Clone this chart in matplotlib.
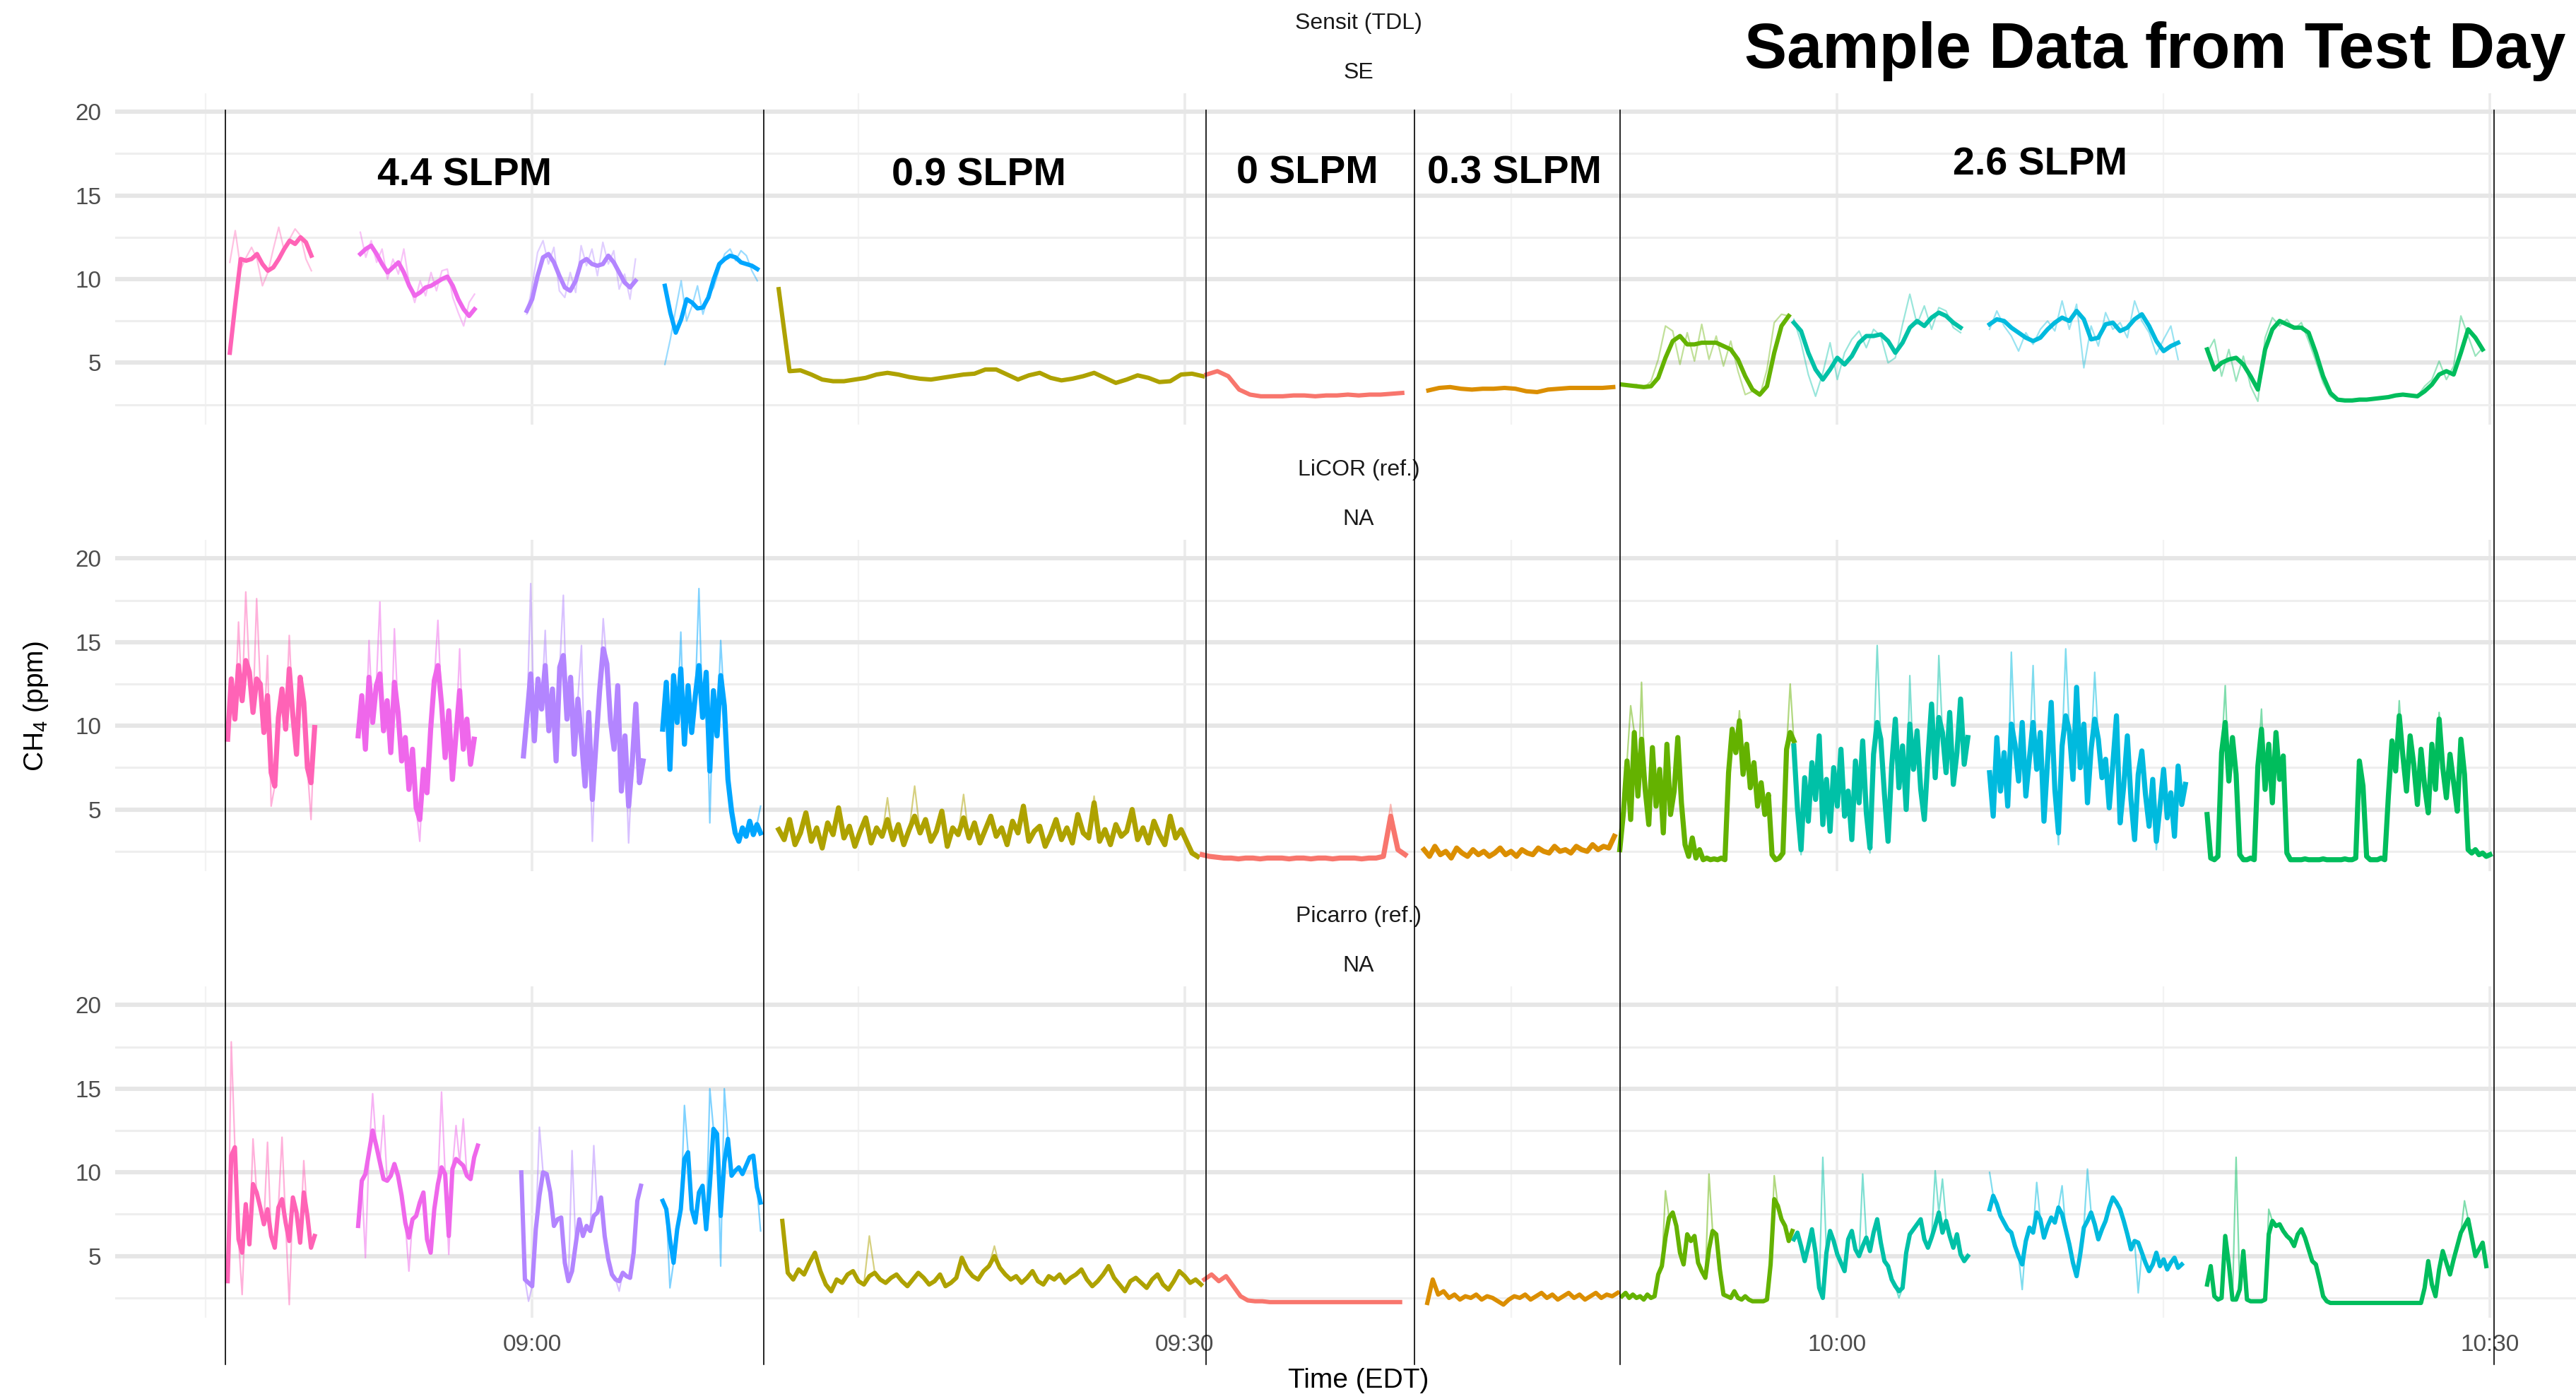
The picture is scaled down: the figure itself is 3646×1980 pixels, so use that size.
import numpy as np
import matplotlib
matplotlib.use("Agg")
import matplotlib.pyplot as plt
import matplotlib.dates as mdates
from matplotlib import font_manager
from matplotlib.lines import Line2D
from matplotlib.transforms import blended_transform_factory

#____________________________________________________________________________________________________
# data (CH4 in ppm)

DAY = "2023-06-14"

# segment order: 4.4 SLPM (4 runs), 0.9, 0, 0.3, 2.6 SLPM (4 runs)
seg_colors = ["#FF63B6", "#EF67EB", "#B385FF", "#00A6FF", "#AEA200", "#F8766D",
              "#DB8E00", "#64B200", "#00C1A7", "#00BADE", "#00BD5C"]

# flow-rate phase changes and labels
phase_edges = ["08:45:53", "09:10:39", "09:30:58", "09:40:34", "09:50:00", "10:30:11"]
phase_labels = ["4.4 SLPM", "0.9 SLPM", "0 SLPM", "0.3 SLPM", "2.6 SLPM"]
phase_label_time = ["08:56:54", "09:20:33", "09:35:39", "09:45:10", "10:09:20"]
phase_label_y = [16.2, 16.2, 16.3, 16.3, 16.8]

# ---- Sensit (TDL): smoothed line + raw readings
sensit_start = ["08:46:06", "08:52:06", "08:59:45", "09:06:06", "09:11:20", "09:31:00",
                "09:41:12", "09:50:06", "09:58:00", "10:07:00", "10:17:00"]
sensit_step = [15, 15, 15, 15, 30, 30, 30, 20, 20, 20, 20]

sensit_a = [5.6, 8.5, 11.2, 11.1, 11.2, 11.5, 10.9, 10.5, 10.7, 11.2, 11.8, 12.3, 12.1, 12.5, 12.2, 11.4]
sensit_a_raw = [11.0, 12.9, 10.6, 11.3, 11.9, 11.2, 9.6, 10.4, 11.8, 13.1, 11.7, 12.4, 13.0, 12.6, 11.2, 10.5]
sensit_b = [11.5, 11.8, 12.0, 11.5, 10.9, 10.4, 10.7, 11.0, 10.4, 9.6, 9.0, 9.2, 9.5, 9.6, 9.8, 10.0,
            10.15, 9.6, 8.8, 8.2, 7.8, 8.2]
sensit_b_raw = [12.8, 11.3, 12.3, 11.0, 11.8, 10.0, 11.2, 10.3, 11.8, 9.7, 8.6, 9.9, 9.0, 10.4, 9.3, 10.5,
                10.6, 8.9, 8.0, 7.2, 8.6, 9.1]
sensit_c = [8.1, 8.8, 10.2, 11.3, 11.5, 11.0, 10.2, 9.5, 9.3, 9.9, 11.0, 11.2, 10.9, 10.8, 10.9, 11.4,
            11.0, 10.4, 9.8, 9.5, 9.9]
sensit_c_raw = [7.9, 9.6, 11.6, 12.3, 10.9, 11.9, 9.3, 8.9, 10.4, 9.2, 12.0, 10.8, 11.8, 10.2, 12.2, 10.9,
                11.7, 9.4, 10.3, 8.8, 11.2]
sensit_d = [9.6, 8.0, 6.8, 7.6, 8.8, 8.6, 8.25, 8.3, 8.9, 10.0, 10.9, 11.2, 11.4, 11.3, 11.0, 10.9, 10.8, 10.6]
sensit_d_raw = [4.9, 6.4, 8.2, 9.9, 7.5, 8.4, 9.6, 7.9, 9.0, 9.5, 10.6, 11.5, 11.8, 11.1, 11.7, 11.4, 10.5, 9.9]
sensit_e = [9.4, 4.5, 4.55, 4.3, 4.0, 3.9, 3.9, 4.0, 4.1, 4.3, 4.4, 4.3, 4.15, 4.05, 4.0, 4.1, 4.2, 4.3,
            4.35, 4.6, 4.6, 4.3, 4.0, 4.25, 4.4, 4.1, 3.95, 4.05, 4.2, 4.4, 4.1, 3.8, 4.0, 4.25, 4.1,
            3.85, 3.9, 4.3, 4.35, 4.2]
sensit_z = [4.3, 4.5, 4.2, 3.4, 3.1, 3.0, 3.0, 3.0, 3.05, 3.05, 3.0, 3.05, 3.05, 3.1, 3.05, 3.1, 3.1, 3.15, 3.2]
sensit_t = [3.35, 3.5, 3.55, 3.45, 3.4, 3.45, 3.45, 3.5, 3.45, 3.3, 3.25, 3.4, 3.45, 3.5, 3.5, 3.5, 3.5, 3.55]
sensit_f = [3.7, 3.65, 3.6, 3.55, 3.6, 4.1, 5.3, 6.3, 6.6, 6.1, 6.1, 6.2, 6.2, 6.2, 6.0, 5.8, 5.2, 4.2,
            3.4, 3.1, 3.6, 5.6, 7.2, 7.8]
sensit_f_raw = [3.7, 3.6, 3.7, 3.5, 3.9, 5.2, 7.2, 6.9, 4.9, 6.8, 5.1, 7.3, 5.2, 6.6, 4.8, 6.3, 4.5, 3.1,
                3.3, 3.0, 4.6, 7.4, 7.9, 7.8]
sensit_g = [7.4, 6.9, 5.6, 4.6, 4.0, 4.6, 5.3, 4.9, 5.4, 6.2, 6.6, 6.6, 6.7, 6.3, 5.6, 6.2, 7.1, 7.5,
            7.2, 7.7, 8.0, 7.8, 7.4, 7.1]
sensit_g_raw = [7.6, 6.2, 4.3, 3.0, 4.4, 6.2, 4.0, 5.6, 6.4, 6.9, 5.9, 7.0, 6.6, 5.0, 5.3, 7.3, 9.1, 7.3,
                8.4, 7.0, 8.3, 8.1, 7.1, 6.8]
sensit_h = [7.3, 7.6, 7.5, 7.1, 6.8, 6.5, 6.3, 6.5, 7.0, 7.4, 7.7, 7.5, 8.1, 7.6, 6.4, 6.5, 7.3, 7.4,
            6.9, 7.1, 7.6, 7.9, 7.2, 6.3, 5.7, 6.0, 6.2]
sensit_h_raw = [7.0, 8.1, 7.2, 6.6, 5.7, 6.8, 6.1, 7.0, 7.5, 6.9, 8.7, 7.0, 8.5, 4.7, 7.2, 6.0, 8.0, 7.0,
                7.4, 6.5, 8.7, 7.5, 6.8, 5.5, 6.4, 7.2, 5.2]
sensit_i = [5.8, 4.6, 5.0, 5.2, 5.3, 4.9, 4.2, 3.4, 5.8, 7.0, 7.5, 7.3, 7.1, 7.1, 6.8, 5.6, 4.2, 3.2,
            2.8, 2.75, 2.75, 2.8, 2.8, 2.85, 2.9, 2.95, 3.05, 3.1, 3.05, 3.0, 3.3, 3.7, 4.3, 4.5, 4.3,
            5.6, 7.0, 6.5, 5.8]
sensit_i_raw = [5.6, 6.4, 4.2, 5.8, 3.9, 5.4, 3.6, 2.7, 6.5, 7.7, 7.2, 7.6, 7.0, 7.4, 6.3, 5.1, 3.8, 3.0,
                2.75, 2.7, 2.75, 2.8, 2.8, 2.85, 2.9, 2.95, 3.1, 3.1, 3.0, 3.0, 3.6, 4.0, 5.1, 4.0, 4.8,
                7.8, 6.6, 5.4, 5.9]

sensit_vals = [sensit_a, sensit_b, sensit_c, sensit_d, sensit_e, sensit_z, sensit_t,
               sensit_f, sensit_g, sensit_h, sensit_i]
sensit_raw = [sensit_a_raw, sensit_b_raw, sensit_c_raw, sensit_d_raw, None, None, None,
              sensit_f_raw, sensit_g_raw, sensit_h_raw, sensit_i_raw]

# ---- LiCOR (ref.): main trace + isolated spikes (index, value) in the raw trace
licor_start = ["08:46:00", "08:52:00", "08:59:36", "09:06:00", "09:11:20", "09:30:48",
               "09:41:00", "09:50:00", "09:58:00", "10:07:00", "10:17:00"]
licor_step = [10, 10, 10, 10, 15, 20, 15, 10, 10, 10, 10]

licor_a = [9.2, 12.8, 10.4, 13.6, 11.5, 13.9, 13.2, 10.8, 12.8, 12.5, 9.6, 11.8, 7.2, 6.4, 10.5, 12.2,
           9.8, 13.4, 10.6, 8.3, 12.9, 11.4, 7.5, 6.6, 9.9]
licor_a_spk = [(3, 16.2), (5, 18.0), (8, 17.6), (11, 14.2), (12, 5.2), (17, 15.4), (23, 4.4)]
licor_b = [9.4, 11.8, 8.6, 12.9, 10.2, 12.4, 13.1, 9.7, 11.5, 8.4, 12.6, 10.8, 7.9, 9.3, 6.2, 8.6, 5.1,
           4.4, 7.4, 6.0, 9.8, 12.7, 13.6, 11.3, 8.1, 10.9, 6.8, 9.5, 12.1, 8.6, 10.4, 7.7, 9.2]
licor_b_spk = [(3, 15.1), (6, 17.4), (10, 15.8), (17, 3.1), (22, 16.3), (28, 14.6)]
licor_c = [8.2, 10.6, 13.1, 9.1, 12.8, 11.0, 13.6, 9.7, 12.2, 7.9, 13.5, 14.2, 10.4, 12.9, 8.3, 11.6,
           9.2, 6.4, 10.8, 5.6, 8.9, 12.1, 14.6, 13.7, 10.3, 8.6, 12.4, 6.1, 9.4, 5.2, 7.8, 11.3, 6.6, 7.9]
licor_c_spk = [(2, 18.5), (6, 15.7), (11, 17.8), (16, 14.8), (19, 3.1), (22, 16.4), (29, 3.0)]
licor_d = [9.8, 12.6, 7.4, 13.0, 10.2, 13.4, 8.9, 12.4, 9.6, 11.8, 13.6, 10.5, 13.2, 7.3, 12.1, 9.4,
           13.0, 11.2, 6.8, 4.9, 3.6, 3.1, 3.9, 3.4, 4.3, 3.5, 4.1, 3.6]
licor_d_spk = [(5, 15.6), (10, 18.2), (13, 4.2), (16, 15.1), (27, 5.2)]
licor_e = [3.8, 3.2, 4.4, 2.9, 3.6, 4.8, 3.1, 3.9, 2.7, 4.2, 3.5, 5.1, 3.3, 4.0, 2.8, 3.7, 4.5, 3.0,
           3.9, 3.4, 4.4, 3.2, 4.1, 2.9, 3.8, 4.6, 3.6, 4.4, 3.1, 3.7, 4.9, 2.8, 3.9, 3.5, 4.5, 3.3,
           4.2, 3.0, 3.8, 4.6, 3.4, 3.9, 2.9, 4.3, 3.6, 5.2, 3.1, 3.7, 4.0, 2.8, 3.5, 4.4, 3.2, 3.9,
           3.0, 4.7, 3.6, 3.3, 5.4, 3.1, 3.8, 2.9, 4.1, 3.4, 3.7, 5.0, 3.2, 3.9, 3.0, 4.3, 3.5, 2.9,
           4.6, 3.3, 3.8, 3.1, 2.4, 2.2]
licor_e_spk = [(20, 5.7), (25, 6.4), (34, 5.9), (58, 5.8)]
licor_z = [2.3, 2.2, 2.15, 2.1, 2.1, 2.05, 2.1, 2.1, 2.05, 2.1, 2.1, 2.1, 2.05, 2.1, 2.1, 2.05, 2.1,
           2.1, 2.05, 2.1, 2.1, 2.1, 2.05, 2.1, 2.1, 2.2, 4.6, 2.6, 2.3]
licor_z_spk = [(26, 5.3)]
licor_t = [2.6, 2.2, 2.8, 2.3, 2.5, 2.1, 2.7, 2.4, 2.2, 2.6, 2.3, 2.5, 2.2, 2.4, 2.7, 2.3, 2.5, 2.2,
           2.6, 2.4, 2.3, 2.7, 2.5, 2.4, 2.8, 2.5, 2.6, 2.4, 2.8, 2.6, 2.5, 2.9, 2.6, 2.8, 2.7, 3.4]
licor_t_spk = []
licor_f = [2.6, 4.8, 7.9, 4.4, 9.6, 5.8, 9.2, 6.2, 4.1, 8.7, 5.2, 7.4, 3.6, 8.9, 4.7, 6.1, 9.3, 5.4,
           2.9, 2.2, 3.3, 2.1, 2.6, 2.0, 2.1, 2.0, 2.05, 2.0, 2.1, 2.0, 7.2, 9.8, 8.4, 10.3, 7.1, 8.9,
           6.3, 7.8, 5.2, 6.6, 4.7, 5.9, 2.3, 2.0, 2.1, 2.4, 8.6, 9.6, 9.1]
licor_f_spk = [(3, 11.2), (6, 12.6), (33, 10.9), (47, 12.5)]
licor_g = [8.8, 5.1, 2.6, 6.9, 4.3, 7.8, 5.6, 9.4, 4.1, 6.8, 3.7, 7.5, 5.2, 8.6, 4.6, 6.1, 3.2, 7.9,
           5.4, 9.1, 4.8, 2.7, 8.3, 10.2, 9.2, 5.9, 3.1, 7.6, 10.4, 6.3, 8.8, 5.0, 10.1, 7.4, 9.7, 6.2,
           4.4, 8.1, 11.3, 6.9, 10.5, 9.6, 7.2, 10.8, 6.5, 8.4, 11.6, 7.7, 9.3]
licor_g_spk = [(2, 2.3), (21, 2.4), (23, 14.8), (32, 13.0), (40, 14.2)]
licor_h = [7.2, 4.6, 9.3, 6.1, 8.4, 5.2, 10.1, 8.9, 6.7, 10.2, 5.8, 8.1, 10.2, 7.4, 9.6, 4.3, 7.9, 11.4,
           6.2, 3.6, 8.8, 10.6, 9.7, 6.8, 12.3, 7.5, 10.1, 5.4, 8.6, 10.4, 9.2, 6.9, 8.0, 5.1, 7.7, 10.6,
           4.2, 6.4, 9.4, 5.6, 3.2, 7.1, 8.5, 5.9, 4.0, 6.8, 3.1, 5.2, 7.4, 4.5, 6.0, 3.4, 7.6, 5.3, 6.5]
licor_h_spk = [(6, 14.4), (12, 13.6), (19, 2.9), (21, 14.6), (29, 13.2), (46, 2.6)]
licor_i = [4.7, 2.1, 2.0, 2.2, 8.4, 10.2, 6.7, 9.3, 7.1, 2.3, 2.0, 2.0, 2.1, 2.0, 7.6, 9.8, 6.2, 8.9,
           5.4, 9.6, 6.8, 8.2, 2.4, 2.0, 2.0, 2.0, 2.0, 2.05, 2.0, 2.0, 2.0, 2.0, 2.05, 2.0, 2.0, 2.0,
           2.0, 2.0, 2.05, 2.0, 2.0, 2.1, 7.9, 6.4, 2.2, 2.0, 2.0, 2.0, 2.1, 2.0, 5.8, 9.1, 7.3, 10.6,
           8.2, 6.1, 9.4, 7.7, 5.3, 8.6, 6.4, 4.8, 8.9, 6.2, 10.4, 7.5, 5.7, 8.3, 6.6, 4.9, 9.2, 7.1,
           2.6, 2.4, 2.6, 2.3, 2.4, 2.2, 2.3]
licor_i_spk = [(5, 12.4), (15, 11.0), (53, 11.5), (64, 10.8)]

licor_vals = [licor_a, licor_b, licor_c, licor_d, licor_e, licor_z, licor_t,
              licor_f, licor_g, licor_h, licor_i]
licor_spk = [licor_a_spk, licor_b_spk, licor_c_spk, licor_d_spk, licor_e_spk, licor_z_spk,
             licor_t_spk, licor_f_spk, licor_g_spk, licor_h_spk, licor_i_spk]

# ---- Picarro (ref.)
pic_start = ["08:46:00", "08:52:00", "08:59:30", "09:06:00", "09:11:30", "09:30:54",
             "09:41:09", "09:50:06", "09:58:00", "10:07:00", "10:17:00"]
pic_step = [10, 10, 10, 10, 15, 20, 15, 10, 10, 10, 10]

pic_a = [3.5, 11.0, 11.5, 6.0, 5.2, 8.1, 5.7, 9.3, 8.8, 7.9, 6.9, 7.8, 6.2, 5.5, 7.9, 8.4, 7.0, 5.9,
         8.5, 7.6, 5.8, 8.8, 7.4, 5.5, 6.2]
pic_a_spk = [(1, 17.8), (4, 2.7), (7, 12.0), (11, 11.8), (15, 12.1), (17, 2.1), (21, 10.7)]
pic_b = [6.8, 9.5, 9.9, 11.2, 12.5, 11.6, 10.6, 9.6, 9.5, 9.8, 10.5, 9.8, 8.6, 7.0, 6.1, 7.2, 7.4, 8.2,
         8.8, 6.0, 5.2, 7.8, 9.3, 10.3, 9.9, 6.2, 10.2, 10.8, 10.6, 10.4, 9.8, 9.6, 10.9, 11.6]
pic_b_spk = [(2, 4.9), (4, 14.7), (7, 13.4), (14, 4.1), (23, 14.8), (25, 5.1), (27, 12.8), (29, 13.2)]
pic_c = [10.0, 3.6, 3.4, 3.2, 6.6, 8.6, 10.0, 9.9, 8.8, 6.8, 7.2, 7.3, 4.6, 3.5, 4.1, 5.7, 7.2, 6.2,
         6.8, 6.5, 7.4, 7.6, 8.5, 6.2, 4.8, 3.9, 3.6, 3.5, 4.0, 3.8, 3.7, 5.2, 8.3, 9.2]
pic_c_spk = [(2, 2.3), (5, 12.7), (14, 11.3), (20, 11.6), (27, 2.9)]
pic_d = [8.3, 7.8, 6.0, 4.6, 6.6, 7.8, 10.8, 11.2, 7.8, 7.0, 8.8, 9.2, 6.6, 9.2, 12.6, 12.3, 7.4, 10.6,
         12.0, 9.8, 10.1, 10.3, 9.9, 10.4, 10.9, 11.0, 9.1, 8.2]
pic_d_spk = [(2, 3.1), (6, 14.0), (13, 15.0), (16, 4.4), (17, 15.0), (27, 6.5)]
pic_e = [7.1, 4.0, 3.6, 4.2, 3.9, 4.6, 5.2, 4.1, 3.3, 2.9, 3.6, 3.4, 3.9, 4.1, 3.5, 3.3, 3.8, 4.0,
         3.6, 3.4, 3.7, 3.9, 3.5, 3.2, 3.6, 4.0, 3.7, 3.3, 3.5, 3.9, 3.2, 3.4, 3.7, 4.9, 4.2, 3.8,
         3.6, 4.1, 4.4, 5.0, 4.3, 3.9, 3.6, 3.8, 3.4, 3.7, 4.1, 3.5, 3.3, 3.8, 3.6, 3.9, 3.4, 3.7,
         3.9, 4.2, 3.6, 3.2, 3.5, 3.9, 4.4, 3.7, 3.3, 2.9, 3.5, 3.7, 3.4, 3.1, 3.6, 3.9, 3.3, 3.0,
         3.5, 4.1, 3.8, 3.4, 3.6, 3.3]
pic_e_spk = [(16, 6.2), (39, 5.6)]
pic_z = [3.6, 3.9, 3.5, 3.8, 3.2, 2.6, 2.35, 2.3, 2.3, 2.25, 2.25, 2.25, 2.25, 2.25, 2.25, 2.25, 2.25,
         2.25, 2.25, 2.25, 2.25, 2.25, 2.25, 2.25, 2.25, 2.25, 2.25, 2.25]
pic_z_spk = []
pic_t = [2.2, 3.6, 2.7, 2.9, 2.5, 2.7, 2.4, 2.6, 2.5, 2.7, 2.4, 2.6, 2.5, 2.3, 2.1, 2.4, 2.6, 2.5,
         2.7, 2.4, 2.6, 2.8, 2.5, 2.7, 2.4, 2.6, 2.8, 2.5, 2.7, 2.4, 2.6, 2.8, 2.5, 2.7, 2.6, 2.8]
pic_t_spk = []
pic_f = [2.6, 2.8, 2.5, 2.7, 2.5, 2.6, 2.4, 2.7, 2.5, 2.6, 3.9, 4.4, 6.1, 7.3, 7.6, 6.8, 5.2, 4.5,
         6.3, 5.9, 6.2, 4.6, 4.1, 3.7, 5.4, 6.5, 6.3, 4.2, 2.7, 2.6, 2.5, 2.9, 2.5, 2.4, 2.6, 2.4,
         2.3, 2.3, 2.3, 2.3, 2.4, 4.5, 8.4, 8.0, 7.2, 6.8, 5.9, 6.5]
pic_f_spk = [(12, 8.9), (24, 9.9), (42, 9.8)]
pic_g = [6.0, 6.4, 5.6, 4.7, 5.6, 6.6, 5.2, 3.1, 2.5, 5.2, 6.5, 5.9, 5.1, 4.6, 4.1, 6.0, 6.5, 5.4,
         5.0, 5.6, 6.1, 5.3, 6.4, 7.2, 5.8, 4.7, 4.4, 3.6, 3.2, 2.9, 3.1, 5.2, 6.3, 6.6, 6.9, 7.2,
         6.0, 5.5, 6.1, 6.8, 7.6, 6.4, 7.1, 6.2, 5.5, 6.3, 5.1, 4.7, 5.0]
pic_g_spk = [(8, 10.9), (19, 9.9), (29, 2.5), (39, 10.1), (41, 9.6)]
pic_h = [7.8, 8.6, 8.1, 7.4, 7.0, 6.6, 6.4, 5.6, 5.0, 4.5, 5.9, 6.7, 6.4, 7.6, 7.2, 6.1, 6.8, 7.3,
         7.0, 7.9, 7.5, 6.6, 5.7, 4.6, 3.8, 5.1, 6.7, 7.1, 7.6, 6.9, 6.0, 6.6, 7.1, 7.9, 8.5, 8.2,
         7.8, 7.1, 6.3, 5.4, 5.9, 5.8, 5.2, 4.6, 4.1, 4.5, 5.2, 4.4, 4.8, 4.2, 4.6, 4.9, 4.3, 4.5]
pic_h_spk = [(0, 10.0), (9, 3.0), (13, 9.4), (20, 9.2), (27, 10.2), (41, 2.8)]
pic_i = [3.3, 4.4, 2.6, 2.4, 2.5, 6.2, 4.5, 2.4, 2.4, 3.0, 5.3, 2.4, 2.3, 2.3, 2.3, 2.3, 2.4, 6.3,
         7.1, 6.8, 6.9, 6.5, 6.2, 6.0, 5.6, 6.3, 6.6, 6.1, 5.4, 4.7, 4.5, 3.6, 2.6, 2.3, 2.2, 2.2,
         2.2, 2.2, 2.2, 2.2, 2.2, 2.2, 2.2, 2.2, 2.2, 2.2, 2.2, 2.2, 2.2, 2.2, 2.2, 2.2, 2.2, 2.2,
         2.2, 2.2, 2.2, 2.2, 2.2, 2.2, 3.1, 4.7, 3.3, 2.6, 4.2, 5.3, 4.6, 3.9, 4.8, 5.6, 6.4, 6.8,
         7.2, 6.1, 5.0, 5.4, 5.8, 4.4]
pic_i_spk = [(8, 10.9), (17, 7.8), (71, 8.3)]

pic_vals = [pic_a, pic_b, pic_c, pic_d, pic_e, pic_z, pic_t, pic_f, pic_g, pic_h, pic_i]
pic_spk = [pic_a_spk, pic_b_spk, pic_c_spk, pic_d_spk, pic_e_spk, pic_z_spk, pic_t_spk,
           pic_f_spk, pic_g_spk, pic_h_spk, pic_i_spk]

#____________________________________________________________________________________________________
# helpers

def ts(hms):
    return np.datetime64(DAY + "T" + hms)

def stamp(start, step, n):
    return ts(start) + np.arange(n) * np.timedelta64(step, "s")

def with_spikes(vals, spikes):
    raw = list(vals)
    for i, v in spikes:
        raw[i] = v
    return raw

names = {f.name for f in font_manager.fontManager.ttflist}
narrow = "Liberation Sans Narrow" if "Liberation Sans Narrow" in names else "Liberation Sans"
plt.rcParams["font.family"] = [narrow, "DejaVu Sans"]
plt.rcParams["mathtext.default"] = "regular"

#____________________________________________________________________________________________________
# plot

fig = plt.figure(figsize=(18.23, 9.9), dpi=200)
left, width = 0.0446, 0.9656
bottoms = [0.6964, 0.3771, 0.0579]
height = 0.2369
axes = [fig.add_axes([left, b, width, height]) for b in bottoms]

strips = [("Sensit (TDL)", "SE"), ("LiCOR (ref.)", "NA"), ("Picarro (ref.)", "NA")]
xmin, xmax = ts("08:40:49"), ts("10:35:10")

for k, ax in enumerate(axes):
    ax.set_xlim(xmin, xmax)
    ax.set_ylim(1.3, 21.1)
    ax.set_yticks([5, 10, 15, 20])
    ax.set_yticks([2.5, 7.5, 12.5, 17.5], minor=True)
    ax.xaxis.set_major_locator(mdates.MinuteLocator(byminute=[0, 30]))
    ax.xaxis.set_minor_locator(mdates.MinuteLocator(byminute=[15, 45]))
    ax.xaxis.set_major_formatter(mdates.DateFormatter("%H:%M"))
    ax.grid(which="major", axis="y", color="#E6E6E6", lw=2.2)
    ax.grid(which="minor", axis="y", color="#EEEEEE", lw=1.1)
    ax.grid(which="major", axis="x", color="#EBEBEB", lw=1.3)
    ax.grid(which="minor", axis="x", color="#F3F3F3", lw=0.8)
    ax.set_axisbelow(True)
    for s in ax.spines.values():
        s.set_visible(False)
    ax.tick_params(which="both", length=0)
    ax.tick_params(axis="y", labelsize=12, labelcolor="#4D4D4D", pad=7)
    ax.tick_params(axis="x", labelsize=12, labelcolor="#4D4D4D", pad=8)
    if k < 2:
        ax.tick_params(axis="x", labelbottom=False)
    ax.text(0.5, 1.212, strips[k][0], transform=ax.transAxes, ha="center", va="center",
            fontsize=11.5, color="#1A1A1A")
    ax.text(0.5, 1.063, strips[k][1], transform=ax.transAxes, ha="center", va="center",
            fontsize=11.5, color="#1A1A1A")

# Sensit
for j in range(len(seg_colors)):
    t = stamp(sensit_start[j], sensit_step[j], len(sensit_vals[j]))
    if sensit_raw[j] is not None:
        axes[0].plot(t, sensit_raw[j], color=seg_colors[j], lw=0.8, alpha=0.4)
    axes[0].plot(t, sensit_vals[j], color=seg_colors[j], lw=2.2)

# LiCOR and Picarro: raw trace with spikes underneath, main trace on top
for ax, starts, steps, vals, spks, lw in [(axes[1], licor_start, licor_step, licor_vals, licor_spk, 2.6),
                                          (axes[2], pic_start, pic_step, pic_vals, pic_spk, 2.2)]:
    for j in range(len(seg_colors)):
        t = stamp(starts[j], steps[j], len(vals[j]))
        ax.plot(t, with_spikes(vals[j], spks[j]), color=seg_colors[j], lw=0.8, alpha=0.5)
        ax.plot(t, vals[j], color=seg_colors[j], lw=lw)

# phase labels
for lab, tl, yl in zip(phase_labels, phase_label_time, phase_label_y):
    axes[0].text(mdates.date2num(ts(tl)), yl, lab, ha="center", va="center",
                 fontsize=20, fontweight="bold", color="black")

# phase dividers running through all three panels
tr = blended_transform_factory(axes[2].transData, fig.transFigure)
for e in phase_edges:
    xe = mdates.date2num(ts(e))
    fig.add_artist(Line2D([xe, xe], [0.0246, 0.9214], transform=tr, color="black", lw=0.6))

fig.text(0.014, 0.4953, "CH$_4$ (ppm)", rotation=90, ha="center", va="center", fontsize=14)
fig.text(0.5274, 0.0129, "Time (EDT)", ha="center", va="center", fontsize=14)
fig.text(0.6773, 0.9636, "Sample Data from Test Day", ha="left", va="center",
         fontsize=32.5, fontweight="bold")

fig.savefig("out.png", dpi=200)
